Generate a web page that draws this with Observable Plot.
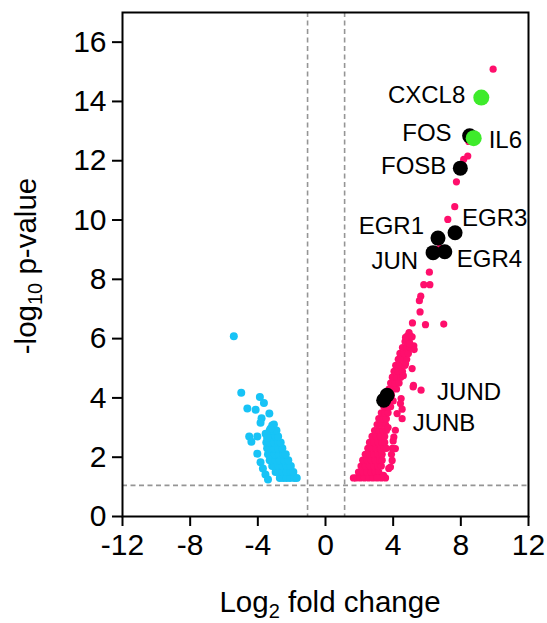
<!DOCTYPE html>
<html><head><meta charset="utf-8">
<script src="https://cdn.jsdelivr.net/npm/d3@7"></script>
<script src="https://cdn.jsdelivr.net/npm/@observablehq/plot@0.6"></script>
<style>body{margin:0;background:#fff}svg{display:block}</style>
</head><body><div id="chart"></div>
<script>
// Up-regulated genes (log2 fold change, -log10 p-value)
const upPoints = [
  [1.8,1.3],[2.05,1.3],[2.3,1.3],[2.55,1.3],[2.8,1.3],
  [1.95,1.5],[2.2,1.5],[2.45,1.5],[2.7,1.5],[2.95,1.5],[3.15,1.5],
  [2.1,1.7],[2.35,1.7],[2.6,1.7],[2.85,1.7],[3.1,1.7],[3.3,1.7],
  [2.2,1.9],[2.45,1.9],[2.7,1.9],[2.95,1.9],[3.2,1.9],[3.35,1.9],
  [2.35,2.1],[2.6,2.1],[2.85,2.1],[3.1,2.1],[3.35,2.1],
  [2.5,2.3],[2.75,2.3],[3.0,2.3],[3.25,2.3],[3.45,2.3],
  [2.6,2.5],[2.85,2.5],[3.1,2.5],[3.35,2.5],[3.5,2.5],
  [2.75,2.7],[3.0,2.7],[3.25,2.7],[3.5,2.7],
  [2.9,2.9],[3.15,2.9],[3.4,2.9],[3.6,2.9],
  [3.05,3.1],[3.3,3.1],[3.55,3.1],
  [3.15,3.3],[3.4,3.3],[3.6,3.3],
  [3.3,3.5],[3.5,3.5],[3.7,3.5],
  [3.45,3.7],[3.65,3.7],[3.85,3.7],
  [3.55,3.9],[3.8,3.9],[4.0,3.9],
  [3.65,4.1],[3.9,4.1],
  [3.75,4.3],[4.0,4.3],[4.2,4.3],
  [3.85,4.5],[4.1,4.5],[4.35,4.5],
  [3.95,4.7],[4.2,4.7],[4.45,4.7],
  [4.05,4.9],[4.3,4.9],[4.55,4.9],
  [4.15,5.1],[4.4,5.1],[4.7,5.1],
  [4.3,5.3],[4.55,5.3],[4.8,5.3],
  [4.4,5.5],[4.65,5.5],[4.9,5.5],
  [4.55,5.7],[4.8,5.7],[5.0,5.7],
  [4.7,5.9],[4.95,5.9],
  [4.85,6.1],[5.0,6.1],
  [9.91,15.09],[8.47,12.65],[8.17,12.05],[8.41,12.16],[7.74,11.29],[7.64,10.45],
  [7.23,10.02],[6.75,9.05],[6.14,8.24],[5.81,7.82],[6.17,7.82],[5.63,7.43],
  [5.55,7.28],[5.59,6.9],[5.14,6.53],[5.91,6.47],[6.99,6.49],[4.94,6.2],
  [4.73,6.04],[5.12,6.06],[5.22,5.76],[5.24,5.63],[4.98,5.83],[4.73,5.16],
  [5.12,4.99],[5.2,4.42],[5.18,4.37],[5.65,4.26],[4.47,3.98],[4.43,3.81],
  [4.53,3.62],[4.23,3.47],[4.53,3.3],[4.13,2.91],[4.04,2.68],[4.13,2.29],
  [3.94,1.89],[3.84,1.67],[3.74,1.62],[3.43,1.39],[3.55,1.3],[3.95,2.3],
  [4.0,2.55],[3.9,2.1],[4.6,4.75],[3.3,1.3],[3.05,1.3],[1.65,1.3],[3.6,2.3],[3.7,3.0]
];
// Down-regulated genes
const downPoints = [
  [-2.7,1.3],[-2.5,1.3],[-2.3,1.3],[-2.1,1.3],[-1.85,1.3],[-1.7,1.3],
  [-2.95,1.5],[-2.8,1.5],[-2.55,1.5],[-2.3,1.5],[-2.05,1.5],[-1.9,1.5],
  [-3.15,1.7],[-3.05,1.7],[-2.8,1.7],[-2.55,1.7],[-2.3,1.7],[-2.05,1.7],
  [-3.3,1.9],[-3.2,1.9],[-2.95,1.9],[-2.7,1.9],[-2.45,1.9],[-2.2,1.9],
  [-3.4,2.1],[-3.25,2.1],[-3.0,2.1],[-2.75,2.1],[-2.5,2.1],[-2.35,2.1],
  [-3.45,2.3],[-3.3,2.3],[-3.05,2.3],[-2.8,2.3],[-2.55,2.3],
  [-3.5,2.5],[-3.3,2.5],[-3.05,2.5],[-2.8,2.5],[-2.65,2.5],
  [-3.35,2.7],[-3.2,2.7],[-2.95,2.7],[-2.8,2.7],
  [-3.3,2.9],[-3.1,2.9],[-2.9,2.9],
  [-3.05,3.1],
  [-5.42,6.08],[-4.98,4.17],[-3.88,4.03],[-3.64,3.83],[-4.62,3.64],[-4.13,3.6],
  [-3.32,3.47],[-3.78,3.31],[-3.84,3.16],[-3.15,3.07],[-3.25,2.96],[-4.51,2.7],
  [-4.38,2.52],[-4.03,2.7],[-3.54,2.79],[-4.03,2.12],[-3.45,2.65],
  [-3.84,1.83],[-3.7,1.62],[-3.55,1.42],[-3.4,1.25]
];
// Highlighted genes
const genes = ["CXCL8","IL6","FOS","FOSB","EGR1","EGR3","EGR4","JUN","JUND","JUNB"];
const geneLog2FC = [9.21, 8.76, 8.52, 7.97, 6.65, 7.66, 7.05, 6.36, 3.64, 3.44];
const geneNegLog10P = [14.13, 12.76, 12.84, 11.75, 9.39, 9.57, 8.93, 8.9, 4.09, 3.92];
const cytokines = ["CXCL8","IL6"];
// Axes and thresholds
const xTicks = [-12,-8,-4,0,4,8,12];
const yTicks = [0,2,4,6,8,10,12,14,16];
const foldThresholds = [-1.06, 1.13];
const pThreshold = [1.05];

const FONT = "'Liberation Sans', Arial, Helvetica, sans-serif";
const geneRows = genes.map((g,i)=>({gene:g, x:geneLog2FC[i], y:geneNegLog10P[i], cyto:cytokines.includes(g)}));
const labelStyle = {
  CXCL8:{dx:-16,dy:-2,a:"end"}, FOS:{dx:-18,dy:-3,a:"end"}, IL6:{dx:15,dy:2,a:"start"},
  FOSB:{dx:-14,dy:-2,a:"end"}, EGR3:{dx:7,dy:-14,a:"start"}, EGR1:{dx:-14,dy:-12,a:"end"},
  JUN:{dx:-15,dy:9,a:"end"}, EGR4:{dx:12,dy:8,a:"start"}, JUND:{dx:50,dy:-3,a:"start"},
  JUNB:{dx:29,dy:23,a:"start"}
};
const labelMarks = geneRows.map(d => {
  const s = labelStyle[d.gene];
  return Plot.text([d], {x:"x", y:"y", text:"gene", dx:s.dx, dy:s.dy, textAnchor:s.a, fontSize:24, fill:"#000"});
});
const dash = {stroke:"#959595", strokeWidth:1.6, strokeDasharray:"5,3.5"};

const plot = Plot.plot({
  width:547, height:623,
  marginLeft:122, marginRight:19, marginTop:12, marginBottom:107,
  style:{fontFamily:FONT, background:"#fff", color:"#000"},
  x:{domain:[-12,12]},
  y:{domain:[0,17]},
  marks:[
    Plot.ruleX(foldThresholds, dash),
    Plot.ruleY(pThreshold, dash),
    Plot.dot(downPoints, {x:d=>d[0], y:d=>d[1], r:4, fill:"#17C3F6"}),
    Plot.dot(upPoints, {x:d=>d[0], y:d=>d[1], r:3.6, fill:"#FF0F6C"}),
    Plot.dot(geneRows.filter(d=>!d.cyto), {x:"x", y:"y", r:7.5, fill:"#000"}),
    Plot.dot(geneRows.filter(d=>d.cyto), {x:"x", y:"y", r:8, fill:"#3EEB2B"}),
    ...labelMarks,
    Plot.frame({stroke:"#000", strokeWidth:2}),
    Plot.axisX({ticks:xTicks, tickFormat:d=>String(d), tickSize:10, tickPadding:7, fontSize:30, label:null, strokeWidth:2}),
    Plot.axisY({ticks:yTicks, tickFormat:d=>String(d), tickSize:10, tickPadding:6, fontSize:30, label:null, strokeWidth:2})
  ]
});
document.getElementById("chart").appendChild(plot);

const svg = d3.select(plot);
const xt = svg.append("text").attr("x",330).attr("y",612).attr("text-anchor","middle")
  .attr("fill","#000").style("font-family",FONT).style("font-size","29.5px");
xt.append("tspan").text("Log");
xt.append("tspan").attr("dy",6).style("font-size","20px").text("2");
xt.append("tspan").attr("dy",-6).text(" fold change");

const yt = svg.append("text").attr("transform","translate(36,266) rotate(-90)").attr("text-anchor","middle")
  .attr("fill","#000").style("font-family",FONT).style("font-size","29.5px");
yt.append("tspan").text("-log");
yt.append("tspan").attr("dy",6).style("font-size","20px").text("10");
yt.append("tspan").attr("dy",-6).text(" p-value");
</script></body></html>
